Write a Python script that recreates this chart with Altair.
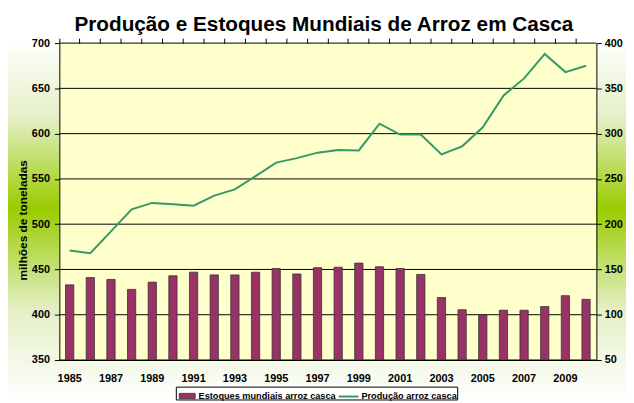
import altair as alt
import pandas as pd

anos = [str(a) for a in range(1985, 2011)]
estoques = [133, 141, 139, 128, 136, 143, 147, 144, 144, 147, 151, 145, 152,
            152.5, 157, 153, 151, 144.5, 119, 105.5, 100, 105, 105, 109, 121, 117]
producao = [471, 468, 492, 516.5, 523.5, 522, 520.5, 531.5, 538.5, 553, 568, 573, 579,
            582, 581.5, 611, 599, 599, 577, 586, 607, 642, 661, 688, 668, 675]
rotulos_x = [str(a) for a in range(1985, 2011, 2)]
ticks_esq = [350, 400, 450, 500, 550, 600, 650, 700]
ticks_dir = [50, 100, 150, 200, 250, 300, 350, 400]
serie_est = "Estoques mundiais arroz casca"
serie_prod = "Produção arroz casca"

FONT = "Liberation Sans"
W, H = 544, 321

df_est = pd.DataFrame({"ano": anos, "valor": estoques, "serie": serie_est})
df_prod = pd.DataFrame({"ano": anos, "valor": producao, "serie": serie_prod})
df_grid = pd.DataFrame({"v": ticks_esq})

leg_common = dict(title=None, orient="none", direction="horizontal",
                  labelFont=FONT, labelFontSize=9.3, labelFontWeight="bold",
                  labelColor="black", padding=2, labelOffset=2, labelLimit=0, zindex=2)

leg_est = alt.Legend(legendX=118, legendY=346, symbolType="M-0.9,-0.3H0.9V0.3H-0.9Z",
                     symbolSize=324, symbolStrokeColor="#333333", symbolStrokeWidth=0.8,
                     symbolOpacity=1, **leg_common)
leg_prod = alt.Legend(legendX=280, legendY=345, symbolType="stroke", symbolSize=400,
                      symbolStrokeWidth=2, **leg_common)

grad = alt.LinearGradient(
    gradient="linear", x1=0, y1=0, x2=0, y2=1,
    stops=[alt.GradientStop(color="#ffffff", offset=0),
           alt.GradientStop(color="#e4efc6", offset=0.22),
           alt.GradientStop(color="#99cc00", offset=0.47),
           alt.GradientStop(color="#e4efc6", offset=0.75),
           alt.GradientStop(color="#ffffff", offset=1)])

fundo = alt.Chart(alt.Data(values=[{}])).mark_rect(fill=grad).encode(
    x=alt.value(-52), x2=alt.value(W + 30), y=alt.value(-5), y2=alt.value(H + 41))
area = alt.Chart(alt.Data(values=[{}])).mark_rect(fill="#FFFFCC").encode(
    x=alt.value(0), x2=alt.value("width"), y=alt.value(0), y2=alt.value("height"))
moldura = alt.Chart(alt.Data(values=[{}])).mark_rect(
    fill="white", stroke="black", strokeWidth=1).encode(
    x=alt.value(118.5), x2=alt.value(403.5), y=alt.value(348.5), y2=alt.value(361.5))
grade = alt.Chart(df_grid).mark_rule(color="black", strokeWidth=1).encode(
    y=alt.Y("v:Q", scale=alt.Scale(domain=[350, 700]), axis=None))

xscale = alt.Scale(paddingInner=0, paddingOuter=0)

barras = alt.Chart(df_est).mark_bar(
    width=alt.RelativeBandSize(0.4), stroke="#333333", strokeWidth=0.8, opacity=1
).encode(
    x=alt.X("ano:O", sort=anos, scale=xscale,
            axis=alt.Axis(values=rotulos_x, ticks=False, tickSize=0, labelPadding=13,
                          labelAngle=0, domain=True, title=None, grid=False, zindex=1)),
    y=alt.Y("valor:Q", scale=alt.Scale(domain=[50, 400]),
            axis=alt.Axis(orient="right", values=ticks_dir, title=None, grid=False,
                          tickSize=5, labelPadding=3, zindex=1)),
    y2=alt.datum(50),
    fill=alt.Fill("serie:N", scale=alt.Scale(domain=[serie_est], range=["#993366"]),
                  legend=leg_est),
)

linha = alt.Chart(df_prod).mark_line(strokeWidth=2).encode(
    x=alt.X("ano:O", sort=anos, scale=xscale,
            axis=alt.Axis(labels=False, ticks=True, tickSize=5, domain=False,
                          bandPosition=0, title=None, grid=False, zindex=1)),
    y=alt.Y("valor:Q", scale=alt.Scale(domain=[350, 700]),
            axis=alt.Axis(orient="left", values=ticks_esq, title="milhões de toneladas",
                          titleFont=FONT, titleFontSize=12, titleFontWeight="bold",
                          titleColor="black", titlePadding=2, titleY=179, grid=False,
                          tickSize=5, labelPadding=5, zindex=1)),
    stroke=alt.Stroke("serie:N", scale=alt.Scale(domain=[serie_prod], range=["#339966"]),
                      legend=leg_prod),
)

chart = alt.layer(fundo, area, grade, moldura, barras, linha).resolve_scale(
    y="independent"
).resolve_axis(x="independent").properties(
    width=W, height=H,
    autosize=alt.AutoSizeParams(type="none"),
    padding={"left": 52, "top": 33, "right": 30, "bottom": 41},
    title=alt.TitleParams(
        text="Produção e Estoques Mundiais de Arroz em Casca",
        font=FONT, fontSize=21, fontWeight="bold", color="black",
        anchor="middle", frame="group", baseline="alphabetic", offset=-15, dx=-4),
    background="white",
).configure_view(stroke=None).configure_axis(
    labelFont=FONT, labelFontSize=11, labelFontWeight="bold", labelColor="black",
    domainColor="black", tickColor="black", domainWidth=1, tickWidth=1,
)

chart.save("out.html", embed_options={"renderer": "svg", "actions": False})
